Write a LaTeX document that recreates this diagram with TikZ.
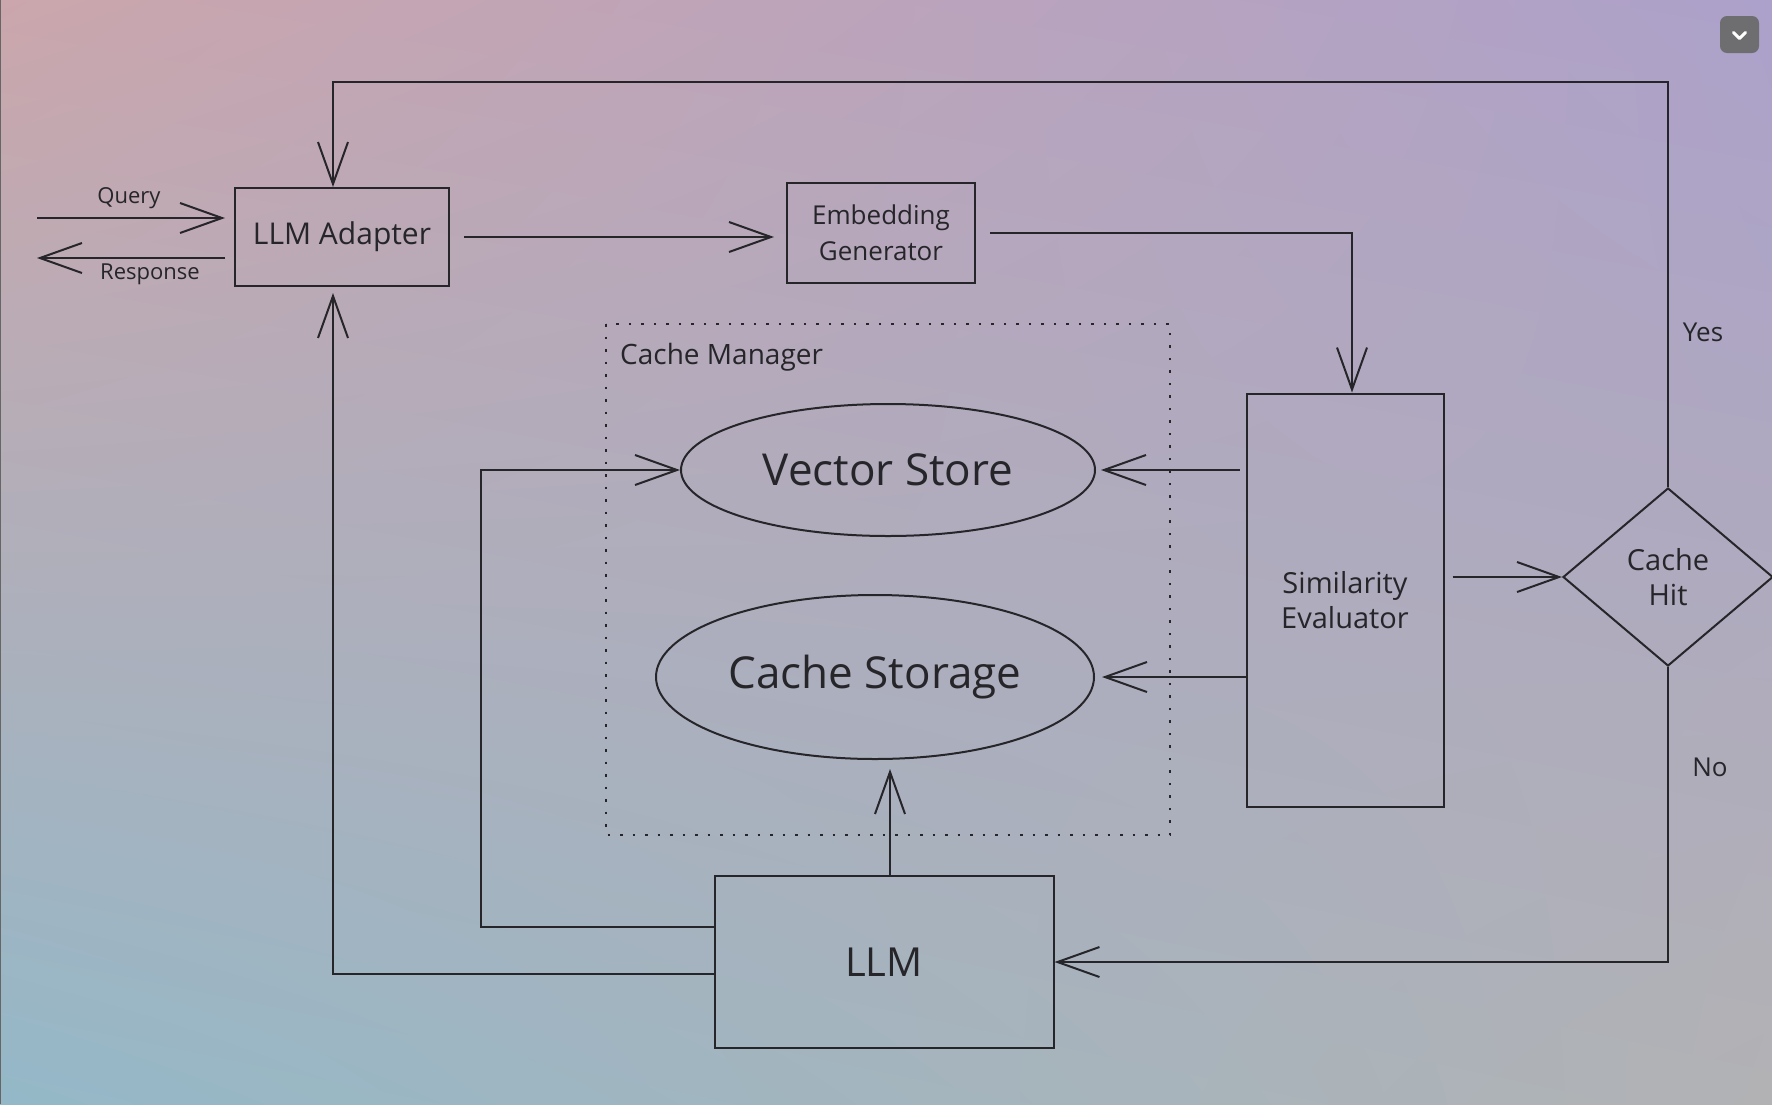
\documentclass[tikz,border=0pt]{standalone}
\usepackage{fontspec}
\setmainfont{Open Sans}
\usetikzlibrary{arrows.meta,shapes.geometric,shadings,calc}
\definecolor{ink}{RGB}{38,38,42}
\definecolor{ctl}{RGB}{203,166,172}
\definecolor{ctr}{RGB}{172,161,202}
\definecolor{cbl}{RGB}{148,184,200}
\definecolor{cbr}{RGB}{178,178,180}
\definecolor{btn}{RGB}{110,110,112}
\newcommand\fsz[2]{\fontsize{#1}{#2}\selectfont}
\begin{document}
\begin{tikzpicture}[x=1pt,y=-1pt,
  box/.style={draw=ink, line width=2pt, inner sep=0pt, align=center, text=ink},
  ell/.style={draw=ink, line width=2pt, ellipse, inner sep=0pt, text=ink},
  lbl/.style={text=ink, inner sep=0pt},
  arr/.style={draw=ink, line width=2pt, -{Straight Barb[length=42pt,width=30pt,line width=2pt]}},
  ln/.style={draw=ink, line width=2pt}]
\useasboundingbox (0,0) rectangle (1772,1104);
\shade[shading=bilinear interpolation, upper left=ctl, upper right=ctr, lower left=cbl, lower right=cbr] (0,0) rectangle (1772,1104);
\draw[line width=1.2pt, color=gray!80!black] (0.8,0) -- (0.8,1104);

% nodes
\node[box, minimum width=214pt, minimum height=98pt, font=\fsz{30}{36}] (adapter) at (342,237) {LLM Adapter};
\node[box, minimum width=188pt, minimum height=100pt, font=\fsz{26}{36}] (eg) at (881,233) {Embedding\\Generator};
\draw[draw=ink, line width=2pt, dash pattern=on 2.5pt off 10pt] (606,324) rectangle (1170,835);
\node[lbl, anchor=west, font=\fsz{28}{32}] (cm) at (620,357) {Cache Manager};
\node[ell, minimum width=414pt, minimum height=132pt, font=\fsz{44}{48}] (vs) at (888,470) {Vector Store};
\node[ell, minimum width=438pt, minimum height=164pt, font=\fsz{44}{48}] (cs) at (875,677) {Cache Storage};
\node[box, minimum width=197pt, minimum height=413pt, font=\fsz{29}{35}] (se) at (1345,600) {Similarity\\Evaluator};
\node[box, diamond, minimum width=210pt, minimum height=178pt, font=\fsz{29}{35}] (hit) at (1668,577) {Cache\\Hit};
\node[box, minimum width=339pt, minimum height=172pt, font=\fsz{40}{44}] (llm) at (884,962) {LLM};

\node[lbl, font=\fsz{22}{26}] (q) at (129,198) {Query};
\node[lbl, font=\fsz{22}{26}] (r) at (150,274) {Response};
\node[lbl, font=\fsz{26}{30}] (yes) at (1703,332) {Yes};
\node[lbl, font=\fsz{26}{30}] (no) at (1710,767) {No};

% coordinates
\coordinate (qs) at (37,218);
\coordinate (rs) at (37,258);
\coordinate (topy) at (0,82);
\coordinate (l1) at (481,927);
\coordinate (l2) at (333,974);
\coordinate (egx) at (1352,0);
\coordinate (llmx) at (890,0);

% connectors
\draw[arr, shorten >=9pt] (qs) -- (adapter.west |- qs);
\draw[arr, shorten <=9pt] (adapter.west |- rs) -- (rs);
\draw[arr, shorten <=14pt, shorten >=12pt] (adapter.east) -- (eg.west |- adapter.east);
\draw[arr, shorten <=14pt] (eg.east) -- (egx |- eg.east) -- (egx |- se.north);
\draw[arr, shorten <=6pt, shorten >=5pt] (se.west |- vs.east) -- (vs.east);
\draw[arr, shorten >=7pt] (se.west |- cs.east) -- (cs.east);
\draw[arr, shorten <=8pt] (se.east |- hit.west) -- (hit.west);
\draw[arr] (hit.north) -- (hit.north |- topy) -- (l2 |- topy) -- (l2 |- adapter.north);
\draw[arr] (hit.south) -- (hit.south |- llm.east) -- (llm.east);
\draw[arr, shorten >=9pt] (llmx |- llm.north) -- (llmx |- cs.south);
\draw[arr] (llm.west |- l1) -- (l1) -- (l1 |- vs.west) -- (vs.west);
\draw[arr, shorten >=6pt] (llm.west |- l2) -- (l2) -- (l2 |- adapter.south);

% button
\node[fill=btn, rounded corners=7pt, minimum width=39pt, minimum height=37pt, inner sep=0pt] (btnbox) at (1739.5,34.5) {};
\draw[white, line width=3pt, line cap=round, line join=round] ($(btnbox.center)+(-6,-2)$) -- ($(btnbox.center)+(0,4)$) -- ($(btnbox.center)+(6,-2)$);
\end{tikzpicture}
\end{document}
